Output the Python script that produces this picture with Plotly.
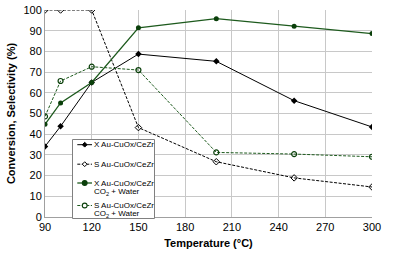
import plotly.graph_objects as go

temps = [90, 100, 120, 150, 200, 250, 300]
x_au = [34.1, 43.8, 65.0, 78.7, 75.2, 56.2, 43.5]
s_au = [100, 100, 100, 43.2, 26.7, 18.9, 14.5]
x_au_w = [44.8, 55.1, 65.0, 91.4, 95.8, 92.1, 88.6]
s_au_w = [48.6, 65.7, 72.6, 71.0, 31.2, 30.4, 29.1]

series_names = ["X Au-CuOx/CeZr", "S Au-CuOx/CeZr",
                "X Au-CuOx/CeZr CO₂ + Water", "S Au-CuOx/CeZr CO₂ + Water"]
legend_lines = [["X Au-CuOx/CeZr"], ["S Au-CuOx/CeZr"],
                ["X Au-CuOx/CeZr", "CO<sub>2</sub> + Water"],
                ["S Au-CuOx/CeZr", "CO<sub>2</sub> + Water"]]

x_ticks = [90, 120, 150, 180, 210, 240, 270, 300]
y_ticks = list(range(0, 101, 10))

BLACK = "#000000"
GREEN = "#1d5a1d"
MGREEN = "#0a3f0a"
DASH = "3px,1.5px"

styles = [
    dict(color=BLACK, mcolor=BLACK, dash="solid", symbol="diamond", size=5, width=1),
    dict(color=BLACK, mcolor=BLACK, dash=DASH, symbol="diamond-open", size=5, width=1),
    dict(color=GREEN, mcolor=MGREEN, dash="solid", symbol="circle", size=5, width=1.3),
    dict(color=GREEN, mcolor=MGREEN, dash=DASH, symbol="circle-open", size=5, width=1),
]
data = [x_au, s_au, x_au_w, s_au_w]

fig = go.Figure()
for name, ys, st in zip(series_names, data, styles):
    mk = dict(symbol=st["symbol"], size=st["size"], color=st["mcolor"])
    if "open" in st["symbol"]:
        mk["line"] = dict(width=1.2 if "circle" in st["symbol"] else 1, color=st["mcolor"])
    fig.add_trace(go.Scatter(x=temps, y=ys, name=name, mode="lines+markers",
                             line=dict(color=st["color"], width=st["width"], dash=st["dash"]),
                             marker=mk, showlegend=False))

L, R, T, B = 45, 21, 10, 43
W, H = 393, 260
pw = W - L - R
ph = H - T - B


def px(x):
    return (x - L) / pw


def py(y):
    return (H - B - y) / ph


# legend box and keys (pixel positions of the legend layout)
box = (72.5, 139.5, 154.5, 218.5)
fig.add_shape(type="rect", xref="paper", yref="paper",
              x0=px(box[0]), x1=px(box[2]), y0=py(box[3]), y1=py(box[1]),
              line=dict(color="#808080", width=1), fillcolor="white", layer="above")
key_y = [144.7, 164.2, 183.0, 205.5]
sub_dy = 8.8
kx0, kx1, kc = 77.3, 92.0, 84.7
for st, lines, yy in zip(styles, legend_lines, key_y):
    fig.add_shape(type="line", xref="paper", yref="paper",
                  x0=px(kx0), x1=px(kx1), y0=py(yy), y1=py(yy),
                  line=dict(color=st["color"], width=st["width"], dash=st["dash"]),
                  layer="above")
    r = 2.4
    if "diamond" in st["symbol"]:
        path = (f"M{px(kc)},{py(yy - r)} L{px(kc + r)},{py(yy)} "
                f"L{px(kc)},{py(yy + r)} L{px(kc - r)},{py(yy)} Z")
        fig.add_shape(type="path", xref="paper", yref="paper", path=path,
                      line=dict(color=st["mcolor"], width=1),
                      fillcolor=st["mcolor"] if "open" not in st["symbol"] else "white",
                      layer="above")
    else:
        r = 2.4
        fig.add_shape(type="circle", xref="paper", yref="paper",
                      x0=px(kc - r), x1=px(kc + r), y0=py(yy + r), y1=py(yy - r),
                      line=dict(color=st["mcolor"], width=1.1),
                      fillcolor=st["mcolor"] if "open" not in st["symbol"] else "white",
                      layer="above")
    for i, t in enumerate(lines):
        fig.add_annotation(x=px(93.0), y=py(yy + i * sub_dy), xref="paper", yref="paper",
                           text=t, showarrow=False, xanchor="left", yanchor="middle",
                           font=dict(size=8, color="black"), borderpad=0)

fig.update_layout(
    width=W, height=H,
    margin=dict(l=L, r=R, t=T, b=B, autoexpand=False),
    paper_bgcolor="white", plot_bgcolor="white",
    font=dict(family="Liberation Sans, Arial, sans-serif", size=11, color="black"),
    showlegend=False,
    xaxis=dict(range=[90, 300], tickvals=x_ticks, showgrid=True, gridcolor="#c8c8c8",
               gridwidth=1, zeroline=False, showline=True, linecolor="#a0a0a0",
               mirror=False, ticks="", tickfont=dict(size=11), automargin=False,
               title=dict(text="<b>Temperature (°C)</b>", font=dict(size=11), standoff=7)),
    yaxis=dict(range=[0, 100], tickvals=y_ticks, showgrid=True, gridcolor="#c8c8c8",
               gridwidth=1, zeroline=False, showline=True, linecolor="#a0a0a0",
               mirror=False, ticks="", tickfont=dict(size=11), automargin=False,
               title=dict(text="<b>Conversion, Selectivity (%)</b>", font=dict(size=11), standoff=5)),
)

fig.write_html("out.html", config={"displayModeBar": False},
               post_script="document.body.style.margin='0';")
